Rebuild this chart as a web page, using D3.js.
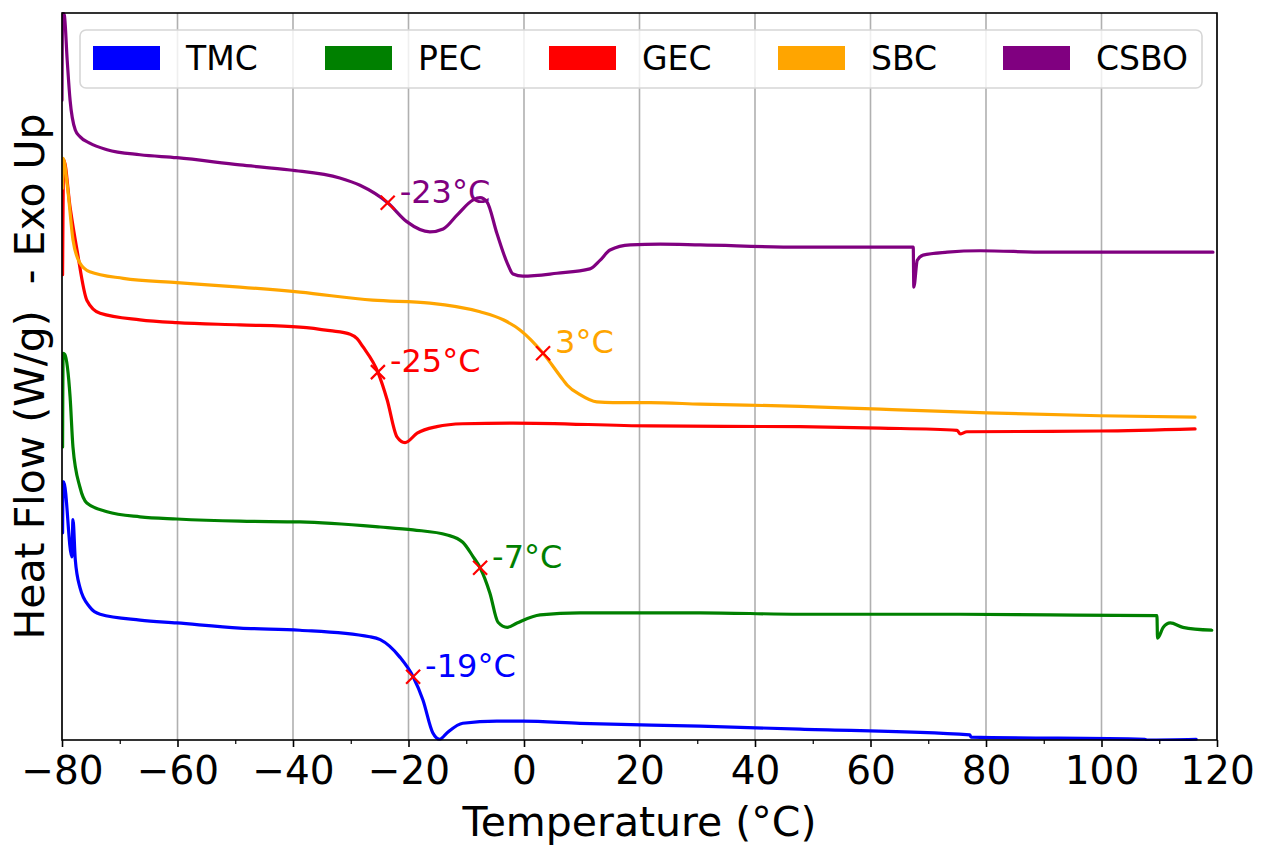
<!DOCTYPE html>
<html>
<head>
<meta charset="utf-8">
<script src="https://cdn.jsdelivr.net/npm/d3@7"></script>
<style>
    body { margin: 0; background: #ffffff; }
    svg { display: block; font-family: "DejaVu Sans", sans-serif; }
</style>
</head>
<body>
<div id="chart"></div>
<script>
// DSC curves, temperature in °C, heat flow in arbitrary stacked units (exo up)
var seriesNames = ["TMC", "PEC", "GEC", "SBC", "CSBO"];
var seriesColors = ["#0000ff", "#008000", "#ff0000", "#ffa500", "#800080"];

var tmcData = [
    [-79.9, 28.5], [-79.8, 35.5], [-79.7, 35.5], [-78.3, 25.2], [-78.1, 30.3], [-77.7, 24.8],
    [-76.9, 21.0], [-75.2, 18.3], [-73.4, 17.3], [-66.5, 16.5], [-60.1, 16.1], [-49.2, 15.4],
    [-38.8, 15.1], [-26.7, 14.2], [-24.9, 13.8], [-21.5, 11.4], [-19.2, 8.7], [-17.5, 5.5],
    [-15.8, 1.0], [-14.6, 0.1], [-13.3, 1.0], [-10.6, 2.3], [-4.7, 2.6], [-0.2, 2.6],
    [9.7, 2.3], [30.5, 1.9], [47.8, 1.5], [77.2, 0.7], [77.4, 0.4], [107.5, 0.1],
    [107.9, 0.0], [116.4, 0.1]
];
var pecData = [
    [-79.9, 40.3], [-79.8, 53.2], [-79.5, 53.0], [-78.6, 47.2], [-78.1, 40.3], [-76.9, 34.8],
    [-75.7, 32.6], [-72.2, 31.4], [-66.5, 30.7], [-60.1, 30.4], [-49.2, 30.1], [-38.8, 30.0],
    [-24.9, 29.3], [-19.2, 28.9], [-13.3, 28.2], [-10.6, 27.2], [-8.8, 25.2], [-7.6, 23.7],
    [-5.9, 20.2], [-4.5, 16.2], [-2.9, 15.5], [-1.2, 16.1], [2.8, 17.2], [9.7, 17.5],
    [30.5, 17.5], [47.8, 17.3], [75.5, 17.3], [91.1, 17.2], [109.6, 17.1], [109.7, 14.0],
    [110.7, 15.5], [111.9, 16.1], [114.1, 15.5], [119.1, 15.1]
];
var gecData = [
    [-79.9, 64.0], [-79.7, 79.8], [-78.6, 73.3], [-77.4, 67.4], [-75.7, 60.5], [-73.4, 58.7],
    [-66.5, 57.8], [-60.1, 57.4], [-49.2, 57.1], [-38.8, 56.8], [-33.6, 56.3], [-30.1, 55.8],
    [-28.9, 55.2], [-27.9, 54.1], [-25.3, 50.6], [-23.7, 46.8], [-22.0, 41.7], [-20.6, 40.9],
    [-18.5, 42.2], [-15.1, 43.1], [-10.6, 43.5], [-1.9, 43.6], [21.8, 43.2], [47.8, 43.1],
    [61.7, 42.9], [75.0, 42.6], [75.5, 42.1], [76.7, 42.4], [99.7, 42.5], [116.2, 42.8]
];
var sbcData = [
    [-79.9, 75.9], [-79.8, 80.0], [-79.0, 75.7], [-78.1, 68.8], [-76.9, 65.6], [-75.2, 64.4],
    [-69.4, 63.5], [-60.1, 62.9], [-49.2, 62.3], [-38.8, 61.6], [-26.2, 60.5], [-16.3, 60.1],
    [-7.6, 58.9], [-3.6, 57.8], [-0.7, 56.4], [3.3, 53.2], [6.8, 49.5], [7.5, 48.8],
    [9.7, 47.5], [12.6, 46.5], [15.4, 46.4], [21.8, 46.4], [30.5, 46.2], [47.8, 45.9],
    [61.7, 45.5], [80.2, 45.0], [99.7, 44.6], [116.2, 44.4]
];
var csboData = [
    [-80.0, 88.0], [-79.9, 100.0], [-79.6, 99.7], [-79.1, 93.5], [-78.6, 88.0], [-77.7, 83.9],
    [-76.9, 83.0], [-75.2, 82.1], [-72.2, 81.2], [-66.5, 80.5], [-60.1, 80.1], [-49.2, 79.1],
    [-40.5, 78.4], [-31.9, 77.3], [-28.4, 76.3], [-23.6, 73.9], [-20.3, 71.3], [-16.3, 69.9],
    [-14.0, 70.3], [-11.6, 72.2], [-8.8, 74.3], [-7.6, 74.6], [-6.4, 74.0], [-4.7, 69.7],
    [-2.9, 65.6], [-1.9, 64.1], [-0.2, 63.8], [5.7, 64.2], [11.4, 64.8], [13.2, 66.0],
    [14.9, 67.4], [18.4, 68.1], [23.6, 68.2], [30.5, 68.1], [47.8, 67.8], [67.4, 67.8],
    [67.5, 62.3], [68.1, 66.0], [69.1, 66.7], [73.3, 67.1], [79.0, 67.3], [90.6, 67.1],
    [119.3, 67.1]
];

// glass transition marks: temperature and label per series
var tgTemps = [-19.2, -7.6, -25.3, 3.3, -23.6];
var tgLabels = ["-19°C", "-7°C", "-25°C", "3°C", "-23°C"];

var xTicks = [-80, -60, -40, -20, 0, 20, 40, 60, 80, 100, 120];
var xMinorTicks = [-70, -50, -30, -10, 10, 30, 50, 70, 90, 110];

(function () {
    var W = 1261, H = 848,
        m = {left: 62, top: 13, right: 44, bottom: 108},
        w = W - m.left - m.right,
        h = H - m.top - m.bottom,
        allData = [tmcData, pecData, gecData, sbcData, csboData];

    var svg = d3.select("#chart").append("svg")
        .attr("width", W)
        .attr("height", H);

    var x = d3.scaleLinear().domain([-80, 120]).range([0, w]);
    var y = d3.scaleLinear().domain([0, 100]).range([h, 0]);

    var g = svg.append("g").attr("transform", "translate(" + m.left + "," + m.top + ")");

    // вертикальная сетка
    g.selectAll(".grid").data(xTicks).enter().append("line")
        .attr("x1", function (d) { return x(d); })
        .attr("x2", function (d) { return x(d); })
        .attr("y1", 0).attr("y2", h)
        .attr("stroke", "#b0b0b0")
        .attr("stroke-width", 1.6);

    var line = d3.line()
        .x(function (d) { return x(d[0]); })
        .y(function (d) { return y(d[1]); })
        .curve(d3.curveMonotoneX);

    g.append("defs").append("clipPath").attr("id", "clip")
        .append("rect").attr("width", w).attr("height", h + 2).attr("y", -1);

    var curves = g.append("g").attr("clip-path", "url(#clip)");
    allData.forEach(function (data, i) {
        curves.append("path")
            .datum(data)
            .attr("d", line)
            .attr("fill", "none")
            .attr("stroke", seriesColors[i])
            .attr("stroke-width", 3.2)
            .attr("stroke-linejoin", "round")
            .attr("stroke-linecap", "round");
    });

    // y на кривой для заданной температуры (линейная интерполяция)
    function valueAt(data, t) {
        var k = d3.bisector(function (d) { return d[0]; }).left(data, t);
        if (k <= 0) { return data[0][1]; }
        if (k >= data.length) { return data[data.length - 1][1]; }
        var a = data[k - 1], b = data[k];
        return a[1] + (b[1] - a[1]) * (t - a[0]) / (b[0] - a[0]);
    }

    allData.forEach(function (data, i) {
        var px = x(tgTemps[i]),
            py = y(valueAt(data, tgTemps[i])),
            s = 7;
        g.append("path")
            .attr("d", "M" + (px - s) + "," + (py - s) + "L" + (px + s) + "," + (py + s) +
                "M" + (px - s) + "," + (py + s) + "L" + (px + s) + "," + (py - s))
            .attr("stroke", "#ff0000")
            .attr("stroke-width", 2.2)
            .attr("fill", "none");
        g.append("text")
            .attr("x", px + 12)
            .attr("y", py)
            .attr("fill", seriesColors[i])
            .attr("font-size", 32)
            .text(tgLabels[i]);
    });

    // оси
    var xAxis = g.append("g")
        .attr("transform", "translate(0," + h + ")")
        .call(d3.axisBottom(x).tickValues(xTicks).tickSize(7).tickPadding(9));
    xAxis.select(".domain").remove();
    xAxis.selectAll(".tick line").attr("stroke-width", 1.6);
    xAxis.selectAll("text").attr("font-size", 39).attr("fill", "#000")
        .attr("font-family", "DejaVu Sans, sans-serif");

    g.append("g")
        .attr("transform", "translate(0," + h + ")")
        .call(d3.axisBottom(x).tickValues(xMinorTicks).tickSize(4).tickFormat(""))
        .call(function (a) { a.select(".domain").remove(); })
        .selectAll(".tick line").attr("stroke-width", 1.2);

    g.append("rect")
        .attr("width", w).attr("height", h)
        .attr("fill", "none")
        .attr("stroke", "#000")
        .attr("stroke-width", 1.6);

    svg.append("text")
        .attr("x", m.left + w / 2)
        .attr("y", 836)
        .attr("text-anchor", "middle")
        .attr("font-size", 41)
        .text("Temperature (°C)");

    svg.append("text")
        .attr("transform", "translate(44," + (m.top + h / 2) + ") rotate(-90)")
        .attr("text-anchor", "middle")
        .attr("font-size", 41)
        .style("white-space", "pre")
        .text("Heat Flow (W/g)  - Exo Up");

    // легенда
    var legend = svg.append("g");
    legend.append("rect")
        .attr("x", 80).attr("y", 30)
        .attr("width", 1122).attr("height", 58)
        .attr("rx", 6)
        .attr("fill", "rgba(255,255,255,0.8)")
        .attr("stroke", "#d6d6d6")
        .attr("stroke-width", 1.6);
    var legendX = [93, 325, 549, 778, 1003];
    seriesNames.forEach(function (name, i) {
        legend.append("rect")
            .attr("x", legendX[i]).attr("y", 46)
            .attr("width", 67).attr("height", 24)
            .attr("fill", seriesColors[i]);
        legend.append("text")
            .attr("x", legendX[i] + 93).attr("y", 70)
            .attr("font-size", 33)
            .text(name);
    });
}());
</script>
</body>
</html>
